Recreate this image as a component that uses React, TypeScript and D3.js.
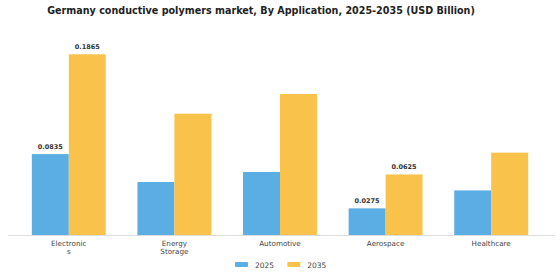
import React from 'react';
import * as d3 from 'd3';

const categories = ['Electronics', 'Energy Storage', 'Automotive', 'Aerospace', 'Healthcare'];
const categoryLines = [['Electronic', 's'], ['Energy', 'Storage'], ['Automotive'], ['Aerospace'], ['Healthcare']];
const years = ['2025', '2035'];
const values2025 = [0.0835, 0.0547, 0.065, 0.0275, 0.046];
const values2035 = [0.1865, 0.1252, 0.1455, 0.0625, 0.085];
const labelled = ['Electronics', 'Aerospace'];

const colors: Record<string, string> = { '2025': '#5AAEE3', '2035': '#F9C24A' };

const width = 560;
const height = 280;
const baseline = 235;
const font = '"DejaVu Sans", sans-serif';

export default function App() {
  const x = d3.scaleBand<string>()
    .domain(categories)
    .range([16, 544])
    .paddingInner(0.3)
    .paddingOuter(0.15);

  const xSub = d3.scaleBand<string>()
    .domain(years)
    .range([0, x.bandwidth()]);

  const y = d3.scaleLinear()
    .domain([0, 0.1865])
    .range([baseline, 54.3]);

  const series: Record<string, number[]> = { '2025': values2025, '2035': values2035 };

  return (
    <svg width={width} height={height} style={{ position: 'absolute', left: 0, top: 0, background: '#fff' }}>
      <text x={width / 2 - 19} y={14} textAnchor="middle" fontFamily={font} fontWeight="bold" fontSize={9.6} fill="#222">
        Germany conductive polymers market, By Application, 2025-2035 (USD Billion)
      </text>

      {categories.map((c, i) => (
        <g key={c} transform={`translate(${x(c)},0)`}>
          {years.map(yr => {
            const v = series[yr][i];
            const bx = xSub(yr) ?? 0;
            return (
              <g key={yr}>
                <rect x={bx} y={y(v)} width={xSub.bandwidth()} height={baseline - y(v)} fill={colors[yr]} />
                {labelled.includes(c) && (
                  <text x={bx + xSub.bandwidth() / 2} y={y(v) - 5} textAnchor="middle"
                    fontFamily={font} fontWeight="bold" fontSize={6.5} fill="#333">
                    {v.toFixed(4)}
                  </text>
                )}
              </g>
            );
          })}
          {categoryLines[i].map((line, j) => (
            <text key={j} x={x.bandwidth() / 2} y={245.5 + j * 8} textAnchor="middle"
              fontFamily={font} fontSize={7.2} fill="#444">
              {line}
            </text>
          ))}
        </g>
      ))}

      <line x1={8} x2={555} y1={baseline + 0.5} y2={baseline + 0.5} stroke="#ddd" strokeWidth={1} />

      {years.map((yr, i) => (
        <g key={yr} transform={`translate(${235 + i * 52.3},262)`}>
          <rect x={0} y={0} width={13} height={5} fill={colors[yr]} rx={1} />
          <text x={20} y={5.5} fontFamily={font} fontSize={7.5} fill="#444">{yr}</text>
        </g>
      ))}
    </svg>
  );
}
